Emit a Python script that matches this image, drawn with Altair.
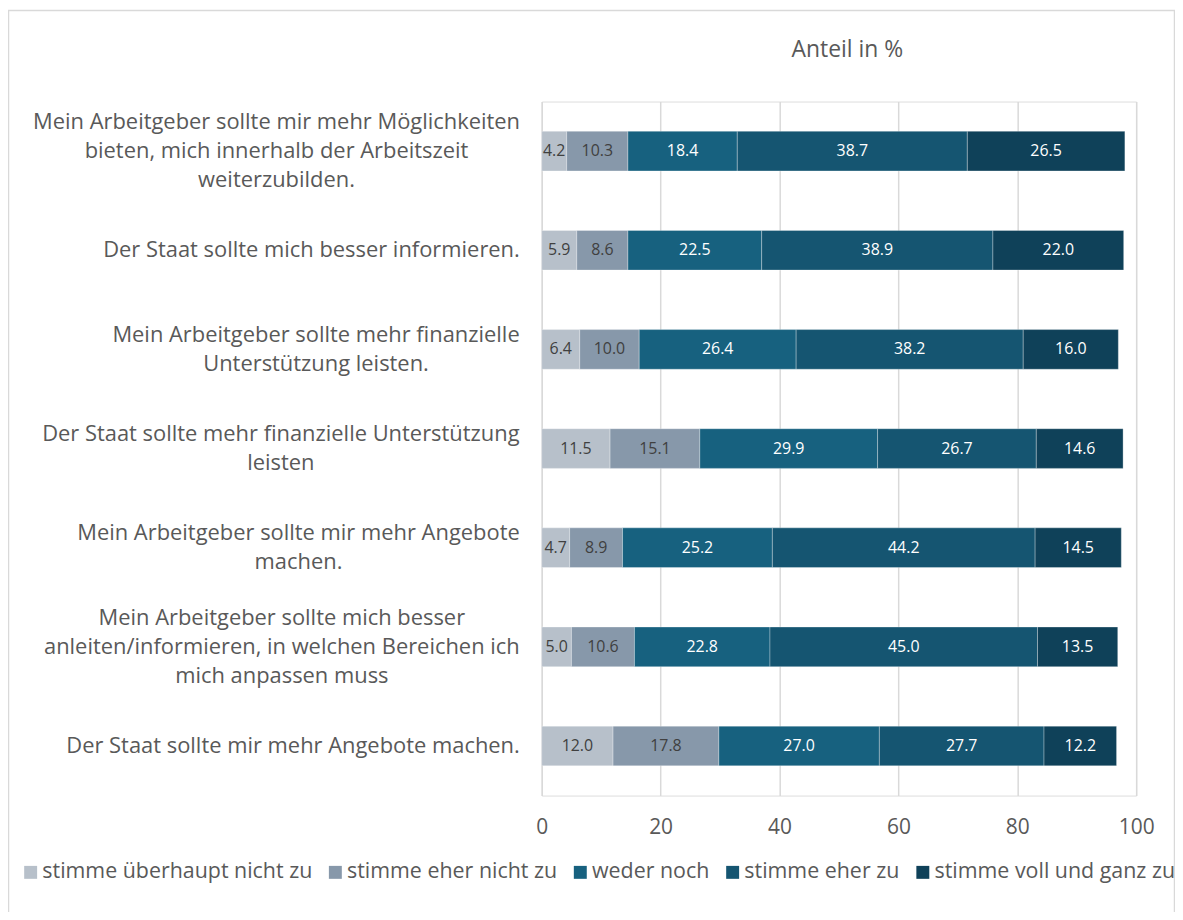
import altair as alt
import pandas as pd

statement_lines = [
    ["Mein Arbeitgeber sollte mir mehr Möglichkeiten", "bieten, mich innerhalb der Arbeitszeit", "weiterzubilden."],
    ["Der Staat sollte mich besser informieren."],
    ["Mein Arbeitgeber sollte mehr finanzielle", "Unterstützung leisten."],
    ["Der Staat sollte mehr finanzielle Unterstützung", "leisten"],
    ["Mein Arbeitgeber sollte mir mehr Angebote", "machen."],
    ["Mein Arbeitgeber sollte mich besser", "anleiten/informieren, in welchen Bereichen ich", "mich anpassen muss"],
    ["Der Staat sollte mir mehr Angebote machen."],
]
answers = [
    "stimme überhaupt nicht zu",
    "stimme eher nicht zu",
    "weder noch",
    "stimme eher zu",
    "stimme voll und ganz zu",
]
v_ueberhaupt_nicht = [4.2, 5.9, 6.4, 11.5, 4.7, 5.0, 12.0]
v_eher_nicht = [10.3, 8.6, 10.0, 15.1, 8.9, 10.6, 17.8]
v_weder = [18.4, 22.5, 26.4, 29.9, 25.2, 22.8, 27.0]
v_eher = [38.7, 38.9, 38.2, 26.7, 44.2, 45.0, 27.7]
v_voll = [26.5, 22.0, 16.0, 14.6, 14.5, 13.5, 12.2]
series = [v_ueberhaupt_nicht, v_eher_nicht, v_weder, v_eher, v_voll]
colors = ["#B7C0CA", "#8798AA", "#17617F", "#155571", "#0F4159"]
tick_values = [0, 20, 40, 60, 80, 100]

statements = ["|".join(lines) for lines in statement_lines]

rows = []
for i, s in enumerate(statements):
    start = 0.0
    for j, a in enumerate(answers):
        v = series[j][i]
        rows.append({"statement": s, "answer": a, "order": j, "value": v,
                     "start": start, "end": start + v, "mid": start + v / 2,
                     "label": f"{v:.1f}"})
        start += v
df = pd.DataFrame(rows)

# approximate Open Sans advance widths (units per em = 2048), used only to
# estimate each label block's width so its lines can be centred
ADV = {" ": 532, "a": 1139, "b": 1255, "c": 975, "d": 1255, "e": 1149, "f": 694,
       "g": 1122, "h": 1257, "i": 518, "j": 518, "k": 1075, "l": 518, "m": 1905,
       "n": 1257, "o": 1237, "p": 1255, "q": 1255, "r": 836, "s": 977, "t": 723,
       "u": 1257, "v": 1026, "w": 1593, "x": 1073, "y": 1028, "z": 981,
       "A": 1296, "B": 1327, "D": 1493, "M": 1796, "S": 1120, "U": 1470,
       "ü": 1257, "ö": 1237, ".": 545, ",": 510, "/": 752}
LABEL_SIZE = 22


def text_w(s):
    return sum(ADV.get(c, 1150) for c in s) / 2048 * LABEL_SIZE


lab_df = pd.DataFrame({
    "statement": statements,
    "nlines": [len(l) for l in statement_lines],
    "blockw": [max(text_w(x) for x in l) for l in statement_lines],
})

FONT = "Open Sans"
TXT = "#404040"
GREY = "#595959"
W, H = 597, 697
LABEL_GAP = 22

x_scale = alt.Scale(domain=[0, 100], nice=False)
y_scale = alt.Scale(paddingInner=0.6, paddingOuter=0.3)

bars = alt.Chart(df).mark_bar(stroke="white", strokeWidth=0.6, strokeOpacity=0.5).encode(
    x=alt.X("start:Q", scale=x_scale, title=None,
            axis=alt.Axis(values=tick_values, domain=False, ticks=False, labelFlush=False,
                          labelPadding=21, labelFontSize=21, labelColor=GREY,
                          labelFont=FONT, gridColor="#D9D9D9", gridWidth=1.5)),
    x2="end:Q",
    y=alt.Y("statement:N", sort=statements, title=None, scale=y_scale, axis=None),
    color=alt.Color("answer:N", sort=answers, scale=alt.Scale(domain=answers, range=colors),
                    legend=alt.Legend(title=None, orient="none", direction="horizontal",
                                      columns=5, legendX=-524, legendY=763,
                                      symbolType="square", symbolSize=169,
                                      symbolStrokeWidth=0, labelFontSize=21.5,
                                      labelFont=FONT, labelColor=GREY,
                                      columnPadding=12, labelOffset=1, labelLimit=400)),
    order=alt.Order("order:Q"),
)

texts = alt.Chart(df).mark_text(fontSize=16, font=FONT).encode(
    x=alt.X("mid:Q", scale=x_scale),
    y=alt.Y("statement:N", sort=statements, scale=y_scale),
    text="label:N",
    color=alt.condition("datum.order < 2", alt.value(TXT), alt.value("white")),
)


def cat_labels(n):
    base = alt.Chart(lab_df).transform_filter(f"datum.nlines == {n}")
    if n == 1:
        mk = base.mark_text(fontSize=LABEL_SIZE, font=FONT, color=GREY, align="right", baseline="middle")
        calc = f"-{LABEL_GAP} * 100 / {W}"
    else:
        mk = base.mark_text(fontSize=LABEL_SIZE, font=FONT, color=GREY, align="center", baseline="middle",
                            lineBreak="|", lineHeight=29, dy=-(n - 1) * 29 / 2)
        calc = f"-({LABEL_GAP} + datum.blockw / 2) * 100 / {W}"
    return mk.transform_calculate(cx=calc).encode(
        x=alt.X("cx:Q", scale=x_scale),
        y=alt.Y("statement:N", sort=statements, scale=y_scale),
        text="statement:N",
    )


title = alt.Chart(pd.DataFrame({"t": ["Anteil in %"]})).mark_text(
    fontSize=23, font=FONT, color=GREY, align="center", baseline="middle"
).encode(text="t:N", x=alt.value(307), y=alt.value(-52))

frame = alt.Chart(pd.DataFrame({"a": [0]})).mark_rect(fill=None, stroke="#D9D9D9", strokeWidth=1.5).encode(
    x=alt.value(-535.5), x2=alt.value(635.5), y=alt.value(-91.5), y2=alt.value(840)
)

chart = alt.layer(frame, bars, texts, cat_labels(1), cat_labels(2), cat_labels(3), title).properties(
    width=W, height=H,
    autosize=alt.AutoSizeParams(type="none"),
    padding={"left": 536, "top": 92, "right": 39, "bottom": 115},
).configure_view(stroke=None).configure(background="white")

chart.save("out.html", embed_options={"renderer": "svg", "actions": False})
